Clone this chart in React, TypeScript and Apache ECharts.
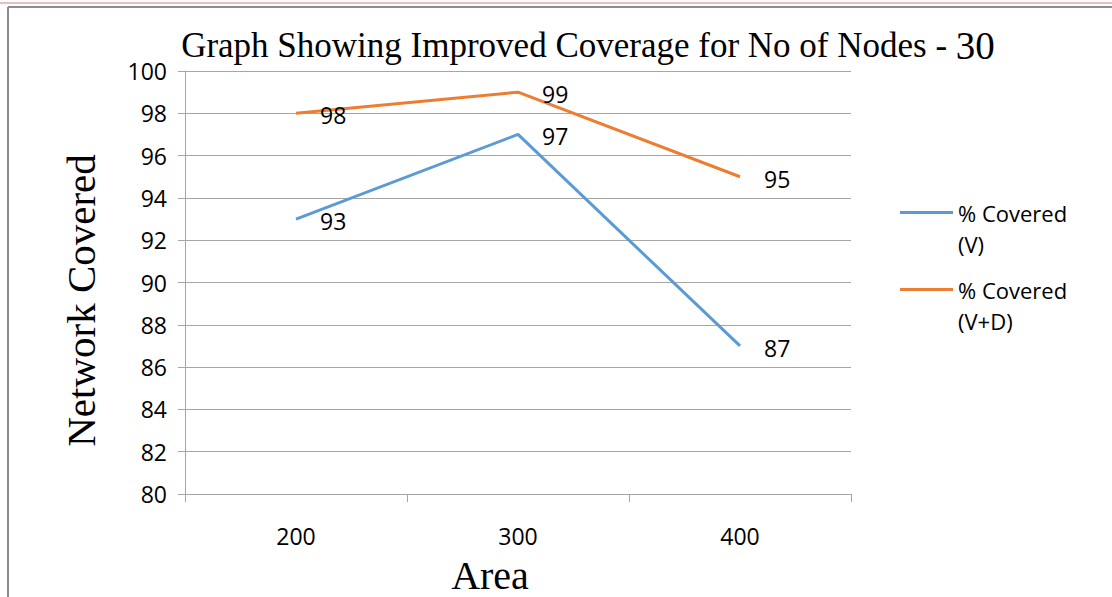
import React, { useEffect, useRef } from "react";
import * as echarts from "echarts";

const categories = ["200", "300", "400"];
const seriesNames = ["% Covered (V)", "% Covered (V+D)"];
const coveredV = [93, 97, 87];
const coveredVD = [98, 99, 95];
const colors = ["#5B9BD5", "#ED7D31"];

export default function App() {
  const ref = useRef<HTMLDivElement>(null);
  useEffect(() => {
    if (!ref.current) return;
    const chart = echarts.init(ref.current, undefined, { renderer: "svg" });
    const sans = "Open Sans";
    const serif = "Liberation Serif";
    const labelStyle = {
      show: true,
      position: "right",
      distance: 24,
      fontFamily: sans,
      fontSize: 23,
      color: "#000",
      offset: [0, 2],
    };
    chart.setOption({
      animation: false,
      backgroundColor: "#ffffff",
      title: {
        text: "{a|Graph Showing Improved Coverage for No of Nodes - }{b|30}",
        left: 583,
        textAlign: "center",
        top: 21,
        textStyle: {
          rich: {
            a: { fontFamily: serif, fontSize: 35, color: "#000", fontWeight: "normal" },
            b: { fontFamily: serif, fontSize: 39, color: "#000", fontWeight: "normal" },
          },
        },
      },
      grid: { left: 185, right: 261, top: 71, bottom: 103, containLabel: false, outerBoundsMode: "none" },
      legend: {
        orient: "vertical",
        left: 895,
        top: 192,
        icon: "path://M0,0L53,0L53,3L0,3Z M0,34L0.05,34",
        itemWidth: 53,
        itemHeight: 34,
        itemGap: 15,
        formatter: (n: string) => n.replace(" (", "\n("),
        textStyle: { fontFamily: sans, fontSize: 22, color: "#000", lineHeight: 31 },
        data: seriesNames,
      },
      xAxis: {
        type: "category",
        data: categories,
        boundaryGap: true,
        name: "Area",
        nameLocation: "middle",
        nameGap: 61,
        nameTextStyle: { fontFamily: serif, fontSize: 40, color: "#000", padding: [0, 56, 0, 0] },
        axisLine: { lineStyle: { color: "#A6A6A6", width: 1 } },
        axisTick: { show: true, length: 8, alignWithLabel: false, lineStyle: { color: "#A6A6A6" } },
        axisLabel: { fontFamily: sans, fontSize: 23, color: "#000", margin: 30 },
      },
      yAxis: {
        type: "value",
        min: 80,
        max: 100,
        interval: 2,
        name: "Network Covered",
        nameLocation: "middle",
        nameGap: 84,
        nameTextStyle: { fontFamily: serif, fontSize: 41, color: "#000", padding: [0, 36, 0, 0] },
        axisLine: { show: true, lineStyle: { color: "#A6A6A6", width: 1 } },
        axisTick: { show: true, length: 7, inside: false, lineStyle: { color: "#A6A6A6" } },
        axisLabel: { fontFamily: sans, fontSize: 23, color: "#000", margin: 18 },
        splitLine: { lineStyle: { color: "#A6A6A6", width: 1 } },
      },
      series: [
        {
          name: seriesNames[0],
          type: "line",
          data: coveredV,
          symbol: "circle",
          symbolSize: 0,
          showSymbol: true,
          color: colors[0],
          lineStyle: { width: 3, color: colors[0] },
          label: labelStyle,
        },
        {
          name: seriesNames[1],
          type: "line",
          data: coveredVD,
          symbol: "circle",
          symbolSize: 0,
          showSymbol: true,
          color: colors[1],
          lineStyle: { width: 3, color: colors[1] },
          label: labelStyle,
        },
      ],
      graphic: [
        { type: "line", shape: { x1: 0, y1: 3, x2: 1112, y2: 3 }, style: { stroke: "#E3A8A8", lineWidth: 1.5 } },
        { type: "line", shape: { x1: 8, y1: 7, x2: 1112, y2: 7 }, style: { stroke: "#8C8C8C", lineWidth: 2 } },
        { type: "line", shape: { x1: 8, y1: 7, x2: 8, y2: 597 }, style: { stroke: "#8C8C8C", lineWidth: 2 } },
      ],
    });
    return () => chart.dispose();
  }, []);
  return <div ref={ref} style={{ position: "fixed", left: 0, top: 0, width: 1112, height: 597 }} />;
}
